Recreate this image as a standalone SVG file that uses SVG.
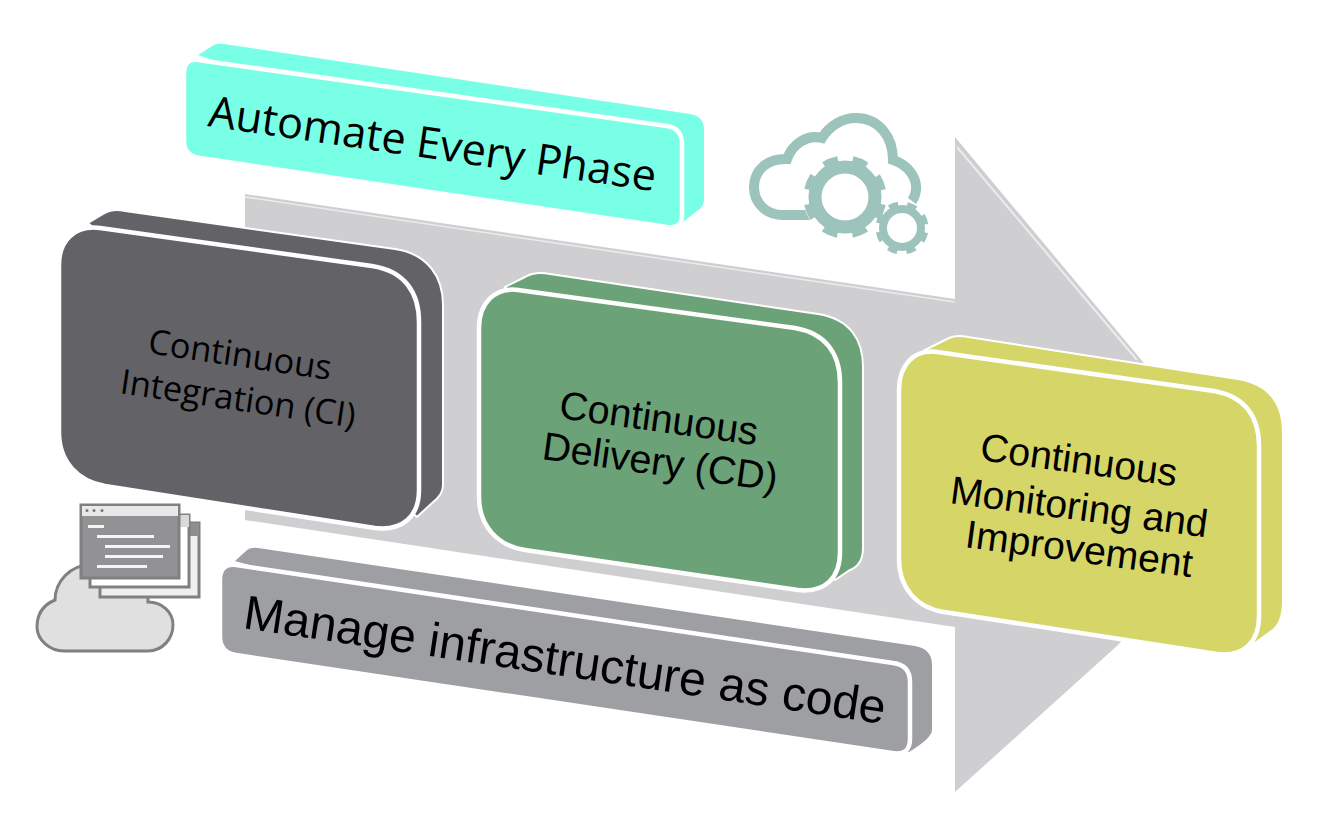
<svg xmlns="http://www.w3.org/2000/svg" width="1323" height="827" viewBox="0 0 1323 827">
<style>
.front{stroke:#fff;stroke-width:4.500}
.back{stroke:#fff;stroke-width:2}
.dark{fill:#636267}.green{fill:#6ca278}.yellow{fill:#d5d667}.teal{fill:#78ffe6}.gray{fill:#9e9fa3}
text{fill:#000;font-family:"Liberation Sans",Arial,sans-serif}
.os{font-family:"Open Sans","Noto Sans",sans-serif}
.gear{fill:none;stroke:#9cc3bc}
</style>
<rect width="1323" height="827" fill="#fff"/>
<g id="arrow">
<polygon points="245,194 955,299 955,137 1143,362 1250,500 1118,645 955,792 955,627 245,520" fill="#cfcfd2"/>
<polyline points="245,197 955,302" fill="none" stroke="#ececee" stroke-width="1.500"/>
<polyline points="957,147 1137,360" fill="none" stroke="#ececee" stroke-width="2"/>
</g>
<g id="node-automate">
<path class="teal" d="M198,55 L214,45 Q218,43 224,44 L690,114 Q704,116 704,130 L704,200 Q704,207 697,211 L683,222Z"/>
<path class="teal front" d="M198,60 L667,126 Q682,128 682,145 L682,215 Q682,229 667,227 L200,158 Q184,156 184,141 L184,74 Q184,58 198,60Z"/>
<text class="os" transform="translate(207,126) rotate(8.300)" font-size="43.200">Automate Every Phase</text>
</g>
<g id="node-ci">
<path class="dark back" d="M88,223 L103,214 Q112,208 125,211 L395,249 C428,254 443,277 443,305 L443,485 Q443,495 432,503 L417,517Z"/>
<path class="dark front" d="M100,228 L372,266 C405,271 419,293 419,322 L419,490 C419,517 402,531 375,528 L105,486 C78,481 59,462 59,432 L59,265 C59,240 75,225 100,228Z"/>
<text class="os" transform="translate(147,353) rotate(8.400)" font-size="34.400">Continuous</text>
<text class="os" transform="translate(119,393) rotate(8.400)" font-size="34.400">Integration (CI)</text>
</g>
<g id="node-cd">
<path class="green back" d="M505,287 L525,277 Q535,271 550,274 L818,314 C850,319 863,340 863,367 L863,548 Q863,565 850,570 L835,580Z"/>
<path class="green front" d="M518,290 L795,328 C825,333 840,353 840,383 L840,552 C840,578 825,593 798,590 L525,550 C498,546 479,526 479,497 L479,328 C479,303 495,287 518,290Z"/>
<text transform="translate(558,418) rotate(7.800)" font-size="39.500">Continuous</text>
<text transform="translate(541,459) rotate(7.800)" font-size="39.500">Delivery (CD)</text>
</g>
<g id="node-cm">
<path class="yellow back" d="M925,350 L945,340 Q955,334 968,337 L1238,379 C1270,384 1283,405 1283,432 L1283,600 Q1283,625 1270,632 L1255,643Z"/>
<path class="yellow front" d="M937,352 L1214,391 C1244,396 1259,416 1259,446 L1259,616 C1259,642 1244,657 1217,654 L944,612 C917,608 899,588 899,559 L899,390 C899,365 914,349 937,352Z"/>
<text transform="translate(979,460) rotate(7.600)" font-size="39.200">Continuous</text>
<text transform="translate(949,503) rotate(7.600)" font-size="39.200">Monitoring and</text>
<text transform="translate(964,547) rotate(7.600)" font-size="39.200">Improvement</text>
</g>
<g id="node-iac">
<path class="gray" d="M235,561 L246,551 Q250,547 258,548 L915,646 Q932,649 932,665 L932,730 Q932,738 909,752Z"/>
<path class="gray front" d="M236,565 L893,663 Q910,665 910,682 L910,739 Q910,756 892,753 L236,655 Q220,653 220,636 L220,580 Q220,563 236,565Z"/>
<text transform="translate(242,628) rotate(8.500)" font-size="48">Manage infrastructure as code</text>
</g>
<g id="icon-cloud-gears">
<path fill="none" stroke="#9cc3bc" stroke-width="10" d="M813,215 L783,215 C765,215 754,202 754,187 C754,170 768,158 787,159 C792,145 806,134 822,138 C830,125 843,118 856,118 C878,118 893,136 893,160 C908,165 917,177 916,190 Q915,197 912,201"/>
<circle cx="845" cy="197" r="42" fill="#fff"/>
<circle cx="902" cy="228" r="27" fill="#fff"/>
<circle class="gear" cx="845" cy="197" r="30" stroke-width="13"/>
<circle class="gear" cx="845" cy="197" r="37" stroke-width="9" stroke-dasharray="14.530 14.530" stroke-dashoffset="-7.270"/>
<circle class="gear" cx="902" cy="228" r="19" stroke-width="8"/>
<circle class="gear" cx="902" cy="228" r="23" stroke-width="7" stroke-dasharray="9.030 9.030" stroke-dashoffset="-4.500"/>
</g>
<g id="icon-cloud-windows">
<path fill="#e0e0e1" stroke="#808080" stroke-width="3" d="M64,651 L148,651 C163,651 173,638 173,625 C173,612 162,602 148,602 C149,590 142,583 134,583 Q127,583 123,590 C120,575 105,565 90,565 C70,565 55,582 55,600 C43,605 37,615 37,627 C37,640 50,651 64,651Z"/>
<rect x="100" y="523" width="99" height="74" fill="#efeff0" stroke="#808080" stroke-width="3"/>
<rect x="100" y="523" width="99" height="13" fill="#8e8e90"/>
<rect x="90" y="515" width="99" height="72" fill="#fff" stroke="#808080" stroke-width="3"/>
<rect x="90" y="515" width="99" height="12" fill="#d9d9da"/>
<rect x="81" y="505" width="98" height="73" fill="#929294" stroke="#808080" stroke-width="3"/>
<rect x="82" y="506" width="96" height="10" fill="#e8e8e9"/>
<g fill="#777"><circle cx="87" cy="510.500" r="1.500"/><circle cx="94" cy="510.500" r="1.500"/><circle cx="102" cy="510.500" r="1.500"/></g>
<g stroke="#f5f5f5" stroke-width="3" fill="none">
<path d="M88,526.500H104M97,536.500H154M105,546.500H170M105,556.500H163M97,566.500H147"/>
</g>
</g>
</svg>
